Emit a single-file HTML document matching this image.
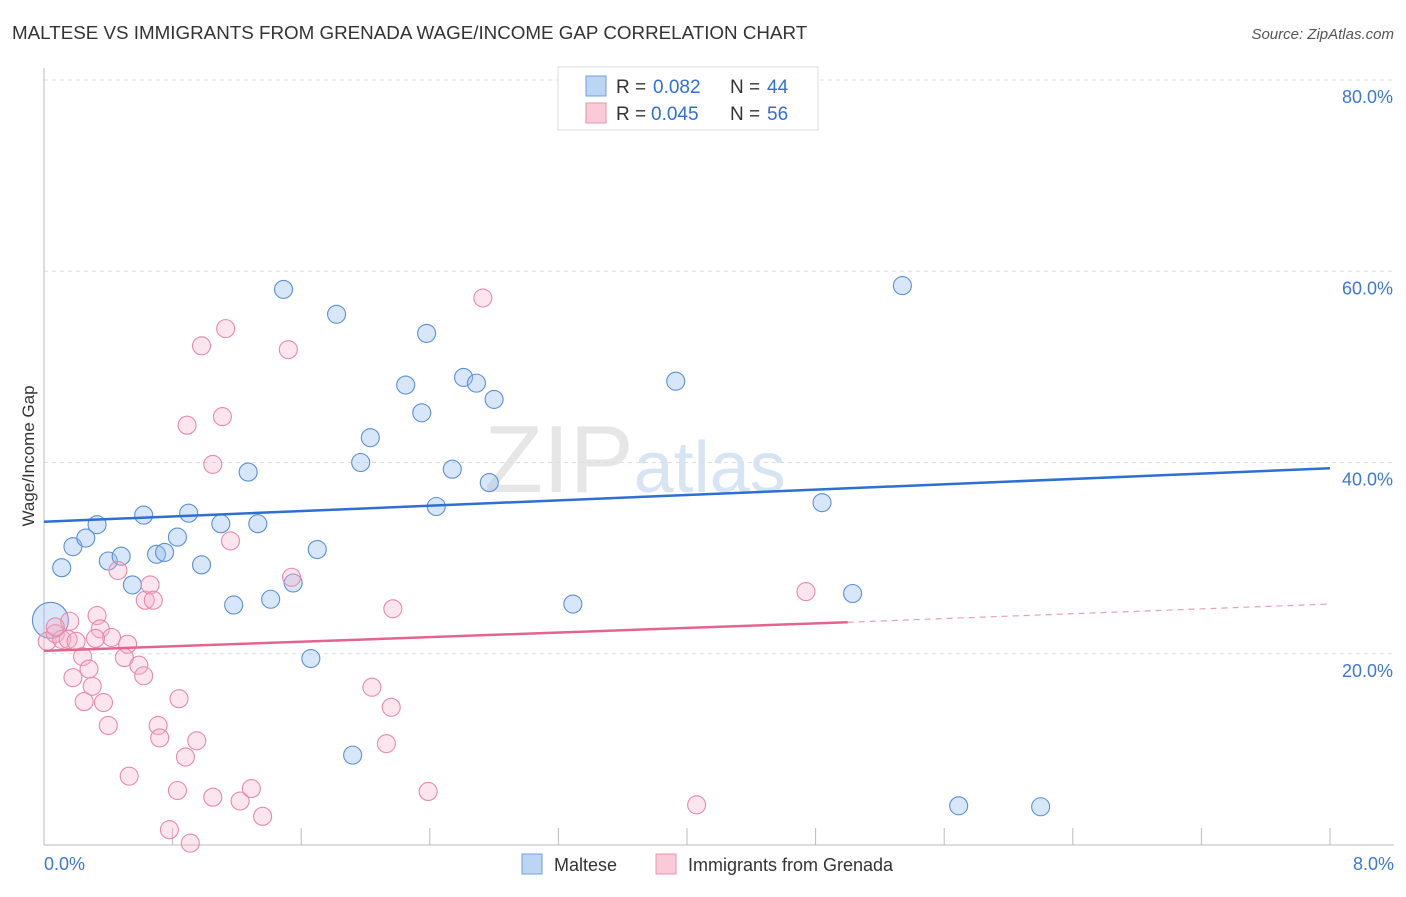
<!DOCTYPE html>
<html><head><meta charset="utf-8"><style>
body{margin:0;background:#fff;font-family:"Liberation Sans",sans-serif}
svg text{font-family:"Liberation Sans",sans-serif}
</style></head><body>
<svg width="1406" height="892" viewBox="0 0 1406 892" xmlns="http://www.w3.org/2000/svg">
<text x="12" y="39" font-size="18.8" fill="#333">MALTESE VS IMMIGRANTS FROM GRENADA WAGE/INCOME GAP CORRELATION CHART</text>
<text x="1394" y="39" font-size="15" fill="#555" text-anchor="end" font-style="italic">Source: ZipAtlas.com</text>
<text x="635" y="492" font-size="96" fill="#e6e6e6" text-anchor="middle" font-family="Liberation Serif">ZIP<tspan fill="#d6e4f3" font-family="Liberation Sans" font-size="72">atlas</tspan></text>
<g id="grid"></g>
<g id="axes"></g>
<text transform="translate(34,456) rotate(-90)" font-size="17" fill="#333" text-anchor="middle">Wage/Income Gap</text>
<g id="marks"></g>
<g>
<rect x="558" y="67" width="260" height="63" fill="#fff" stroke="#ddd"/>
<rect x="586" y="76" width="20" height="20" fill="#bcd5f5" stroke="#6f9fe0"/>
<rect x="586" y="103" width="20" height="20" fill="#fbcad8" stroke="#e892ae"/>
<text x="616" y="93" font-size="19" fill="#333">R =</text><text x="653" y="93" font-size="19" fill="#2f6fd6">0.082</text>
<text x="730" y="93" font-size="19" fill="#333">N =</text><text x="767" y="93" font-size="19" fill="#2f6fd6">44</text>
<text x="616" y="120" font-size="19" fill="#333">R =</text><text x="651" y="120" font-size="19" fill="#2f6fd6">0.045</text>
<text x="730" y="120" font-size="19" fill="#333">N =</text><text x="767" y="120" font-size="19" fill="#2f6fd6">56</text>
</g>
<g>
<rect x="522" y="854" width="20" height="20" fill="#bcd5f5" stroke="#6f9fe0"/>
<text x="554" y="871" font-size="18" fill="#333">Maltese</text>
<rect x="656" y="854" width="20" height="20" fill="#fbcad8" stroke="#e892ae"/>
<text x="688" y="871" font-size="18" fill="#333">Immigrants from Grenada</text>
</g>
</svg>
<script>
const yTicks=[20,40,60,80];
const yTickLabels=["20.0%","40.0%","60.0%","80.0%"];
const xTickLabels=["0.0%","8.0%"];
const blueX=[0.04,0.11,0.18,0.26,0.33,0.40,0.48,0.55,0.62,0.70,0.75,0.83,0.90,0.98,1.10,1.18,1.27,1.33,1.41,1.49,1.55,1.66,1.70,1.82,1.92,1.97,2.03,2.25,2.35,2.38,2.44,2.54,2.61,2.69,2.77,2.80,3.29,3.93,4.84,5.03,5.34,5.69,6.20];
const blueY=[23.5,29.0,31.2,32.1,33.5,29.7,30.2,27.2,34.5,30.4,30.6,32.2,34.7,29.3,33.6,25.1,39.0,33.6,25.7,58.1,27.4,19.5,30.9,55.5,9.4,40.0,42.6,48.1,45.2,53.5,35.4,39.3,48.9,48.3,37.9,46.6,25.2,48.5,35.8,26.3,58.5,4.1,4.0];
const pinkX=[0.02,0.07,0.11,0.15,0.16,0.20,0.33,0.35,0.42,0.46,0.52,0.63,0.66,0.68,0.18,0.24,0.28,0.30,0.25,0.37,0.40,0.50,0.59,0.62,0.53,0.71,0.72,0.84,0.88,0.95,0.83,0.78,0.91,0.98,1.05,0.89,1.05,1.11,1.13,1.16,1.22,1.29,1.36,1.52,1.54,2.04,2.13,2.16,2.17,2.39,2.73,4.06,4.74,0.32,0.07];
const pinkY=[21.3,22.1,21.5,21.5,23.4,21.3,24.0,22.6,21.7,28.7,21.0,25.6,27.2,25.6,17.5,19.7,18.4,16.6,15.0,14.9,12.5,19.6,18.8,17.7,7.2,12.5,11.2,15.3,9.2,10.9,5.7,1.6,0.2,52.2,5.0,43.9,39.8,44.8,54.0,31.8,4.6,5.9,3.0,51.8,28.0,16.5,10.6,14.4,24.7,5.6,57.2,4.2,26.5,21.6,22.8];
const blueTrend=[33.8,39.4], pinkTrend=[20.3,23.3,25.2];
const X0=44,X1=1330,Y0=845,Y1=80;
const xs=v=>X0+v/8*(X1-X0), ys=v=>Y0-v/80*(Y0-Y1);
const NS="http://www.w3.org/2000/svg";
function mk(t,a,p){const e=document.createElementNS(NS,t);for(const k in a)e.setAttribute(k,a[k]);p.appendChild(e);return e;}
const grid=document.getElementById('grid'),axes=document.getElementById('axes'),marks=document.getElementById('marks');
yTicks.forEach((t,i)=>{
 const l=mk('line',{x1:X0,x2:1394,y1:ys(t),y2:ys(t),stroke:'#ddd','stroke-dasharray':'4,4'},grid);
 
 
 const tx=mk('text',{x:1393,y:ys(t)+23,'font-size':18,fill:'#3b78d8','text-anchor':'end'},axes);
 tx.textContent=yTickLabels[i];
 
 
});
mk('line',{x1:X0,x2:X0,y1:68,y2:Y0,stroke:'#bbb'},axes);
mk('line',{x1:X0,x2:1394,y1:Y0,y2:Y0,stroke:'#bbb'},axes);
for(let i=1;i<=10;i++){const x=xs(i*0.8);const t=mk('line',{x1:x,x2:x,y1:828,y2:Y0,stroke:'#bbb'},axes);
 
 }
[[0,'start',44],[8,'end',1394]].forEach((d,i)=>{const t=mk('text',{x:d[2],y:870,'font-size':18,fill:'#3b78d8','text-anchor':d[1]},axes);t.textContent=xTickLabels[i];
 
 });
blueX.forEach((x,i)=>{const c=mk('circle',{cx:xs(x),cy:ys(blueY[i]),r:i==0?18:9,fill:'rgba(150,188,238,0.38)',stroke:'#5b8fd8','stroke-width':1.1},marks);
 
 });
pinkX.forEach((x,i)=>{const c=mk('circle',{cx:xs(x),cy:ys(pinkY[i]),r:9,fill:'rgba(245,175,198,0.32)',stroke:'#e88aa8','stroke-width':1.1},marks);
 
 });
let l=mk('line',{x1:xs(0),y1:ys(blueTrend[0]),x2:xs(8),y2:ys(blueTrend[1]),stroke:'#2d6fd2','stroke-width':2.5},marks);


l=mk('line',{x1:xs(0),y1:ys(pinkTrend[0]),x2:xs(5),y2:ys(pinkTrend[1]),stroke:'#e5648e','stroke-width':2.5},marks);


l=mk('line',{x1:xs(5),y1:ys(pinkTrend[1]),x2:xs(8),y2:ys(pinkTrend[2]),stroke:'#e5a0b8','stroke-width':1.2,'stroke-dasharray':'6,5'},marks);


</script>
</body></html>
